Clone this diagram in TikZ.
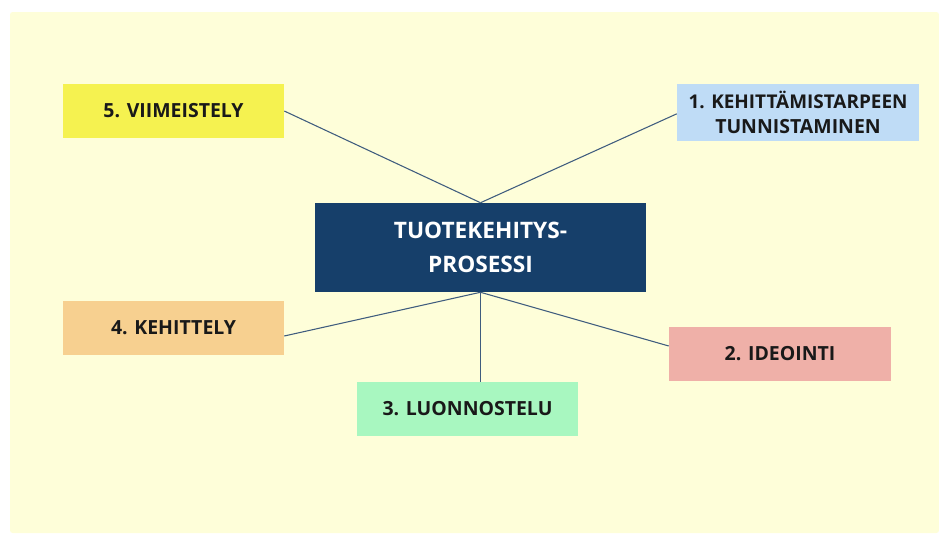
\documentclass[tikz,border=0pt]{standalone}
\usepackage{fontspec}
\setmainfont{Open Sans}
\definecolor{bgyellow}{HTML}{FEFED9}
\definecolor{cyellow}{HTML}{F5F250}
\definecolor{cblue}{HTML}{BFDCF6}
\definecolor{cnavy}{HTML}{163F6A}
\definecolor{cpeach}{HTML}{F7D090}
\definecolor{cgreen}{HTML}{A8F7C0}
\definecolor{cpink}{HTML}{EFB0A8}
\definecolor{linec}{HTML}{3F5C7E}
\begin{document}
\begin{tikzpicture}[x=0.75pt,y=-0.75pt,
  stepbox/.style={rectangle, inner sep=0pt, align=center, text=black!90,
    font=\fontsize{14.6pt}{19pt}\selectfont\bfseries},
  centerbox/.style={rectangle, inner sep=0pt, align=center, fill=cnavy, text=white,
    font=\fontsize{17pt}{25pt}\selectfont\bfseries},
  link/.style={draw=linec, line width=0.8pt}]
\useasboundingbox (0,0) rectangle (939,533);
\fill[white] (0,0) rectangle (939,533);
\fill[bgyellow, rounded corners=2pt] (10,12) rectangle (939,533);

\node[centerbox, minimum width=248.25pt, minimum height=66.75pt] (c) at (480.5,247.5) {TUOTEKEHITYS-\\PROSESSI};
\node[stepbox, fill=cyellow, minimum width=165.75pt, minimum height=40.5pt] (b5) at (173.5,111) {5. VIIMEISTELY};
\node[stepbox, fill=cblue, minimum width=181.5pt, minimum height=42.75pt] (b1) at (798,112.5) {\fontsize{14.2pt}{19pt}\selectfont 1. KEHITTÄMISTARPEEN\\TUNNISTAMINEN};
\node[stepbox, fill=cpeach, minimum width=165.75pt, minimum height=40.5pt] (b4) at (173.5,328) {4. KEHITTELY};
\node[stepbox, fill=cgreen, minimum width=165.75pt, minimum height=40.5pt] (b3) at (467.5,409) {3. LUONNOSTELU};
\node[stepbox, fill=cpink, minimum width=166.5pt, minimum height=40.5pt] (b2) at (780,354) {2. IDEOINTI};

\draw[link] (b5.east) -- (c.north);
\draw[link] ([yshift=-1pt]b1.west) -- (c.north);
\draw[link] (c.south) -- ([yshift=-6pt]b4.east);
\draw[link] (c.south) -- (c.south |- b3.north);
\draw[link] (c.south) -- ([yshift=6pt]b2.west);
\end{tikzpicture}
\end{document}
